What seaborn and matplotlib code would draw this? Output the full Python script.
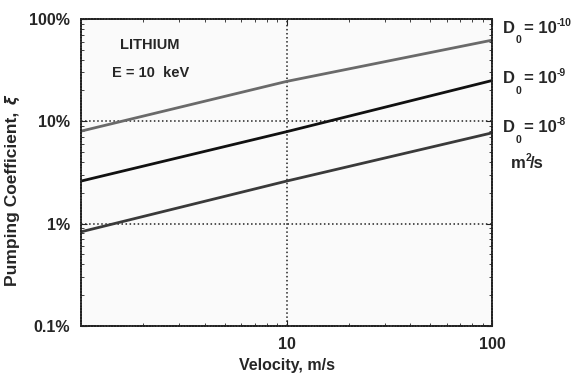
import matplotlib
matplotlib.use("Agg")
import matplotlib.pyplot as plt
import matplotlib.ticker as mticker
import seaborn as sns
import pandas as pd
import numpy as np

# values (pumping coefficient as fraction)
velocity = [1, 10, 100]
xi_d10 = [0.080, 0.245, 0.62]   # D0 = 1e-10
xi_d9 = [0.026, 0.079, 0.25]    # D0 = 1e-9
xi_d8 = [0.0083, 0.026, 0.077]  # D0 = 1e-8
series_names = ["1e-10", "1e-9", "1e-8"]
series_exps = ["-10", "-9", "-8"]

df = pd.DataFrame({
    "velocity": velocity * 3,
    "xi": xi_d10 + xi_d9 + xi_d8,
    "D0": [n for n in series_names for _ in velocity],
})

sns.set_style("ticks")
plt.rcParams["font.family"] = ["Liberation Sans", "DejaVu Sans"]
plt.rcParams["font.weight"] = "bold"

fig = plt.figure(figsize=(5.71, 3.78), dpi=100)
ax = fig.add_axes([0.142, 0.138, 0.720, 0.812])
ax.set_facecolor("#fafafa")

palette = {"1e-10": "#6a6a6a", "1e-9": "#111111", "1e-8": "#3a3a3a"}
sns.lineplot(data=df, x="velocity", y="xi", hue="D0", palette=palette,
             linewidth=2, legend=False, ax=ax)

ax.set_xscale("log")
ax.set_yscale("log")
ax.set_xlim(1, 100)
ax.set_ylim(0.001, 1)

ax.xaxis.set_major_locator(mticker.FixedLocator([10, 100]))
ax.xaxis.set_major_formatter(mticker.FixedFormatter(["10", "100"]))
ax.xaxis.set_minor_locator(mticker.LogLocator(base=10, subs=np.arange(2, 10)))
ax.xaxis.set_minor_formatter(mticker.NullFormatter())
ax.yaxis.set_major_locator(mticker.FixedLocator([0.001, 0.01, 0.1, 1]))
ax.yaxis.set_major_formatter(mticker.FixedFormatter(["0.1%", "1%", "10%", "100%"]))
ax.yaxis.set_minor_locator(mticker.LogLocator(base=10, subs=np.arange(2, 10)))
ax.yaxis.set_minor_formatter(mticker.NullFormatter())

ax.tick_params(which="both", direction="in", top=True, right=True, color="#222222")
ax.tick_params(which="major", length=4, labelsize=11.5, pad=8)
ax.tick_params(which="minor", length=2.5)
for lbl in ax.get_xticklabels() + ax.get_yticklabels():
    lbl.set_fontweight("bold")
for s in ax.spines.values():
    s.set_linewidth(1.3)
    s.set_linestyle((0, (1, 0.6)))
    s.set_color("#222222")

ax.grid(True, which="major", linestyle=":", color="#222222", linewidth=1.1)

ax.set_xlabel("Velocity, m/s", fontsize=11.5, fontweight="bold", labelpad=4)
ax.set_ylabel("Pumping Coefficient, ", fontsize=12.5, fontweight="bold")
ax.yaxis.set_label_coords(-0.148, 0.42)
# the xi sits in a lighter face
ax.annotate(r"$\xi$", xy=(0.5, 1), xycoords=ax.yaxis.label, xytext=(0, 2),
            textcoords="offset points", ha="center", va="bottom", rotation=90,
            fontsize=10.5, fontweight="normal")

ax.text(0.168, 0.915, "LITHIUM", transform=ax.transAxes, ha="center", va="center",
        fontsize=10.5, fontweight="bold")
ax.text(0.168, 0.825, "E = 10  keV", transform=ax.transAxes, ha="center", va="center",
        fontsize=10.5, fontweight="bold")

label_y = [0.97, 0.805, 0.645]
for exp, y in zip(series_exps, label_y):
    d = ax.text(1.025, y, "D", transform=ax.transAxes, ha="left", va="center",
                fontsize=12, fontweight="bold")
    ax.annotate("0", xy=(1, 0), xycoords=d, xytext=(0.5, -3.5), textcoords="offset points",
                ha="left", va="center", fontsize=7.5, fontweight="bold")
    eq = ax.annotate("= 10", xy=(1, 0.5), xycoords=d, xytext=(6.5, 0), textcoords="offset points",
                     ha="left", va="center", fontsize=12, fontweight="bold")
    ax.annotate(exp, xy=(1, 1), xycoords=eq, xytext=(0.3, -1.5), textcoords="offset points",
                ha="left", va="center", fontsize=7.5, fontweight="bold")

m = ax.text(1.045, 0.53, "m", transform=ax.transAxes, ha="left", va="center",
            fontsize=12, fontweight="bold")
sq = ax.annotate("2", xy=(1, 1), xycoords=m, xytext=(0, -1.5), textcoords="offset points",
                 ha="left", va="center", fontsize=7.5, fontweight="bold")
ax.annotate("/s", xy=(1, 0.5), xycoords=m, xytext=(3.5, 0), textcoords="offset points",
            ha="left", va="center", fontsize=12, fontweight="bold")

fig.savefig("out.png", dpi=100)
